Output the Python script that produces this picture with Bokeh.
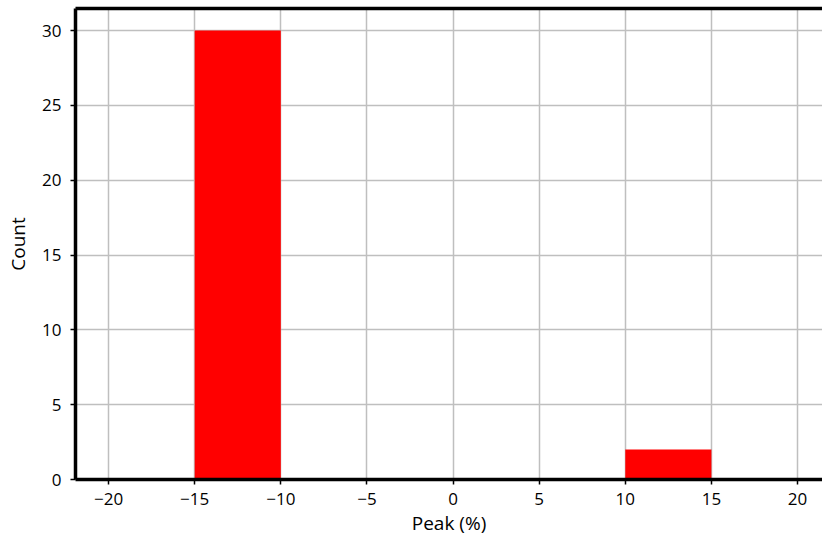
from bokeh.plotting import figure
from bokeh.models import Range1d, LinearAxis, FixedTicker
from bokeh.embed import file_html
from bokeh.resources import INLINE

bin_left = [-20, -15, -10, -5, 0, 5, 10, 15]
bin_right = [-15, -10, -5, 0, 5, 10, 15, 20]
counts = [0, 30, 0, 0, 0, 0, 2, 0]
x_ticks = [-20, -15, -10, -5, 0, 5, 10, 15, 20]
y_ticks = [0, 5, 10, 15, 20, 25, 30]

FONT = "Open Sans"

p = figure(width=822, height=543, output_backend="svg", toolbar_location=None,
           x_range=Range1d(-21.92, 21.45), y_range=Range1d(0, 31.47),
           min_border_left=75, min_border_right=0, min_border_top=8, min_border_bottom=64)
p.outline_line_color = None
p.background_fill_color = "white"
p.border_fill_color = "white"

p.quad(left=bin_left, right=bin_right, bottom=0, top=counts,
       fill_color="#ff0000", line_color=None)

p.xaxis.ticker = FixedTicker(ticks=x_ticks)
p.yaxis.ticker = FixedTicker(ticks=y_ticks)
p.xaxis.major_label_overrides = {t: (str(t).replace("-", "\u2212")) for t in x_ticks}
for ax in (p.xaxis[0], p.yaxis[0]):
    ax.axis_line_width = 3.5
    ax.axis_line_color = "black"
    ax.major_tick_line_color = "black"
    ax.major_tick_line_width = 1.5
    ax.major_tick_out = 5
    ax.major_tick_in = 0
    ax.minor_tick_line_color = None
    ax.major_label_text_font = FONT
    ax.major_label_text_font_size = "17px"
    ax.major_label_text_color = "black"
    ax.axis_label_text_font = FONT
    ax.axis_label_text_font_size = "19px"
    ax.axis_label_text_font_style = "normal"
    ax.axis_label_text_color = "black"
p.xaxis.axis_label = "Peak (%)"
p.yaxis.axis_label = "Count"
p.xaxis.major_label_standoff = 8
p.yaxis.major_label_standoff = 9
p.xaxis.axis_label_standoff = 2
p.yaxis.axis_label_standoff = 8

top = LinearAxis(ticker=FixedTicker(ticks=[]), axis_line_width=3.5, axis_line_color="black",
                 major_label_text_font_size="0px", major_tick_line_color=None,
                 minor_tick_line_color=None)
p.add_layout(top, "above")

p.grid.grid_line_color = "#bfbfbf"
p.grid.grid_line_width = 1.5

open("out.html", "w").write(file_html(p, INLINE))
